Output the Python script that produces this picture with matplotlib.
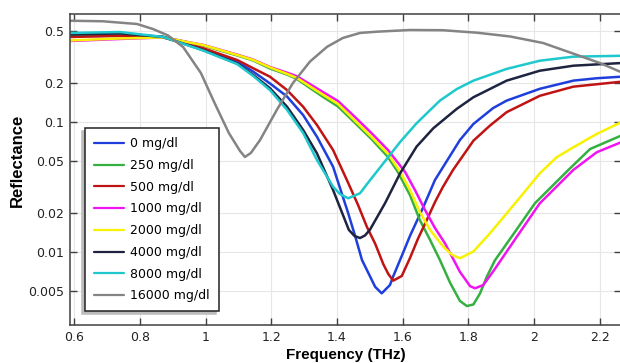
import matplotlib
matplotlib.use("Agg")
import matplotlib.pyplot as plt
from matplotlib.ticker import FixedLocator, FixedFormatter, NullLocator

# Reflectance spectra for increasing glucose concentration
labels = ["0 mg/dl", "250 mg/dl", "500 mg/dl", "1000 mg/dl",
          "2000 mg/dl", "4000 mg/dl", "8000 mg/dl", "16000 mg/dl"]
colors = ["#1f3fdc", "#35b040", "#c01414", "#f014f0",
          "#f8f200", "#1e2440", "#1ec8cc", "#848484"]

f_0 = [0.588, 0.740, 0.871, 0.992, 1.096, 1.145, 1.196, 1.248, 1.297, 1.339,
       1.388, 1.434, 1.455, 1.476, 1.516, 1.536, 1.561, 1.571, 1.597, 1.622,
       1.663, 1.698, 1.774, 1.815, 1.875, 1.916, 2.017, 2.119, 2.190, 2.264]
r_0 = [0.471, 0.475, 0.451, 0.365, 0.291, 0.244, 0.198, 0.157, 0.113, 0.0770,
       0.0453, 0.0199, 0.0133, 0.00868, 0.00540, 0.00481, 0.00557, 0.00650, 0.00933, 0.0133,
       0.0223, 0.0358, 0.0727, 0.0966, 0.128, 0.146, 0.180, 0.208, 0.217, 0.223]

f_250 = [0.588, 0.740, 0.871, 0.992, 1.096, 1.145, 1.196, 1.251, 1.278, 1.354,
         1.403, 1.455, 1.506, 1.555, 1.585, 1.622, 1.652, 1.683, 1.713, 1.744,
         1.774, 1.795, 1.815, 1.835, 1.855, 1.880, 1.931, 2.002, 2.104, 2.170, 2.264]
r_250 = [0.464, 0.467, 0.451, 0.387, 0.325, 0.297, 0.258, 0.230, 0.214, 0.158,
         0.1316, 0.0982, 0.0734, 0.0538, 0.0413, 0.0274, 0.0176, 0.0124, 0.00868, 0.00580,
         0.00420, 0.00384, 0.00395, 0.00480, 0.00640, 0.00860, 0.0131, 0.0237, 0.0428, 0.0620, 0.0785]

f_500 = [0.588, 0.740, 0.871, 0.992, 1.096, 1.145, 1.196, 1.248, 1.297, 1.339,
         1.388, 1.430, 1.464, 1.491, 1.516, 1.541, 1.556, 1.571, 1.597, 1.622,
         1.646, 1.673, 1.698, 1.722, 1.753, 1.815, 1.865, 1.916, 2.017, 2.119, 2.264]
r_500 = [0.451, 0.459, 0.447, 0.370, 0.300, 0.259, 0.223, 0.176, 0.131, 0.0948,
         0.0609, 0.0358, 0.0230, 0.0156, 0.0116, 0.00805, 0.00678, 0.00602, 0.00654, 0.00899,
         0.0126, 0.0176, 0.0242, 0.0316, 0.0428, 0.0718, 0.0937, 0.119, 0.159, 0.187, 0.204]

f_1000 = [0.588, 0.740, 0.871, 0.992, 1.096, 1.145, 1.196, 1.251, 1.278, 1.354,
          1.403, 1.455, 1.506, 1.555, 1.607, 1.637, 1.668, 1.698, 1.728, 1.744,
          1.774, 1.805, 1.820, 1.845, 1.878, 1.947, 2.017, 2.119, 2.190, 2.264]
r_1000 = [0.420, 0.435, 0.447, 0.392, 0.330, 0.302, 0.265, 0.238, 0.225, 0.172,
          0.145, 0.109, 0.0816, 0.0609, 0.0413, 0.0300, 0.0210, 0.0153, 0.0117, 0.00982,
          0.00703, 0.00546, 0.00526, 0.00557, 0.00727, 0.0131, 0.0237, 0.0428, 0.0585, 0.0698]

f_2000 = [0.588, 0.740, 0.871, 0.992, 1.096, 1.145, 1.196, 1.251, 1.278, 1.354,
          1.403, 1.455, 1.506, 1.555, 1.592, 1.622, 1.652, 1.683, 1.722, 1.750,
          1.774, 1.815, 1.865, 1.916, 1.967, 2.017, 2.068, 2.119, 2.190, 2.264]
r_2000 = [0.424, 0.439, 0.447, 0.391, 0.328, 0.300, 0.263, 0.233, 0.218, 0.164,
          0.1375, 0.102, 0.0763, 0.0568, 0.0413, 0.0300, 0.0203, 0.0148, 0.0111, 0.0095,
          0.00895, 0.0101, 0.0139, 0.0198, 0.0283, 0.0403, 0.0535, 0.0639, 0.0809, 0.0995]

f_4000 = [0.588, 0.740, 0.871, 0.992, 1.096, 1.145, 1.196, 1.248, 1.297, 1.339,
          1.388, 1.436, 1.453, 1.470, 1.485, 1.500, 1.546, 1.592, 1.642, 1.693,
          1.764, 1.815, 1.916, 2.017, 2.119, 2.264]
r_4000 = [0.471, 0.480, 0.451, 0.358, 0.282, 0.230, 0.182, 0.131, 0.0868, 0.0574,
          0.0300, 0.0148, 0.0133, 0.0128, 0.0134, 0.0148, 0.0237, 0.0403, 0.0646, 0.0895,
          0.126, 0.155, 0.208, 0.248, 0.271, 0.284]

f_8000 = [0.588, 0.740, 0.871, 0.992, 1.096, 1.145, 1.196, 1.248, 1.297, 1.339,
          1.388, 1.409, 1.434, 1.470, 1.494, 1.541, 1.592, 1.642, 1.713, 1.764,
          1.815, 1.916, 2.017, 2.119, 2.264]
r_8000 = [0.484, 0.492, 0.451, 0.355, 0.279, 0.226, 0.176, 0.124, 0.0823, 0.0510,
          0.0318, 0.0279, 0.0259, 0.0283, 0.0340, 0.0481, 0.0702, 0.0977, 0.146, 0.179,
          0.208, 0.256, 0.296, 0.318, 0.323]

f_16000 = [0.588, 0.688, 0.792, 0.840, 0.886, 0.932, 0.986, 1.029, 1.071, 1.105,
           1.120, 1.138, 1.166, 1.217, 1.266, 1.318, 1.370, 1.418, 1.470, 1.522,
           1.622, 1.722, 1.826, 1.926, 2.027, 2.130, 2.200, 2.264]
r_16000 = [0.601, 0.595, 0.567, 0.519, 0.463, 0.377, 0.238, 0.1375, 0.0823, 0.0598,
           0.0538, 0.0578, 0.0727, 0.124, 0.1995, 0.292, 0.379, 0.443, 0.484, 0.495,
           0.510, 0.508, 0.486, 0.455, 0.405, 0.328, 0.284, 0.242]

x_ticks = [0.6, 0.8, 1.0, 1.2, 1.4, 1.6, 1.8, 2.0, 2.2]
x_tick_labels = ["0.6", "0.8", "1", "1.2", "1.4", "1.6", "1.8", "2", "2.2"]
y_ticks = [0.005, 0.01, 0.02, 0.05, 0.1, 0.2, 0.5]
y_tick_labels = ["0.005", "0.01", "0.02", "0.05", "0.1", "0.2", "0.5"]

series = [(f_0, r_0), (f_250, r_250), (f_500, r_500), (f_1000, r_1000),
          (f_2000, r_2000), (f_4000, r_4000), (f_8000, r_8000), (f_16000, r_16000)]

fig = plt.figure(figsize=(6.2, 3.63), dpi=100)
ax = fig.add_axes([70 / 620, 1 - 325 / 363, 551 / 620, 311 / 363])

for (fx, ry), lab, col in zip(series, labels, colors):
    ax.plot(fx, ry, color=col, lw=1.8, label=lab, solid_capstyle="round")

ax.set_yscale("log")
ax.set_xlim(0.5878, 2.2639)
ax.set_ylim(0.002745, 0.677)

ax.xaxis.set_major_locator(FixedLocator(x_ticks))
ax.xaxis.set_major_formatter(FixedFormatter(x_tick_labels))
ax.yaxis.set_major_locator(FixedLocator(y_ticks))
ax.yaxis.set_major_formatter(FixedFormatter(y_tick_labels))
ax.yaxis.set_minor_locator(NullLocator())

ax.tick_params(which="both", direction="in", top=True, right=True,
               length=5, width=1, color="#404040", labelsize=9,
               labelcolor="#222222", pad=4)
ax.grid(True, color="#e6e6e6", lw=0.8)
ax.set_axisbelow(True)
for sp in ax.spines.values():
    sp.set_color("#404040")
    sp.set_linewidth(1.1)

ax.set_xlabel("Frequency (THz)", fontsize=11, fontweight="bold",
              family="Liberation Sans", labelpad=3)
ax.set_ylabel("Reflectance", fontsize=12, fontweight="bold",
              family="Liberation Sans")
ax.yaxis.set_label_coords(-0.082, 0.53)

leg = ax.legend(loc="upper left", bbox_to_anchor=(0.027, 0.633), borderaxespad=0,
                fontsize=9, fancybox=False, framealpha=1, edgecolor="#222222",
                handlelength=2.4, handletextpad=0.5, labelspacing=0.7,
                borderpad=0.72,
                shadow={"ox": -2, "oy": -2, "facecolor": "#bcbcbc",
                        "edgecolor": "#bcbcbc", "alpha": 1})
leg.get_frame().set_linewidth(1.1)
for line in leg.get_lines():
    line.set_linewidth(1.6)

fig.savefig("out.png", dpi=100)
